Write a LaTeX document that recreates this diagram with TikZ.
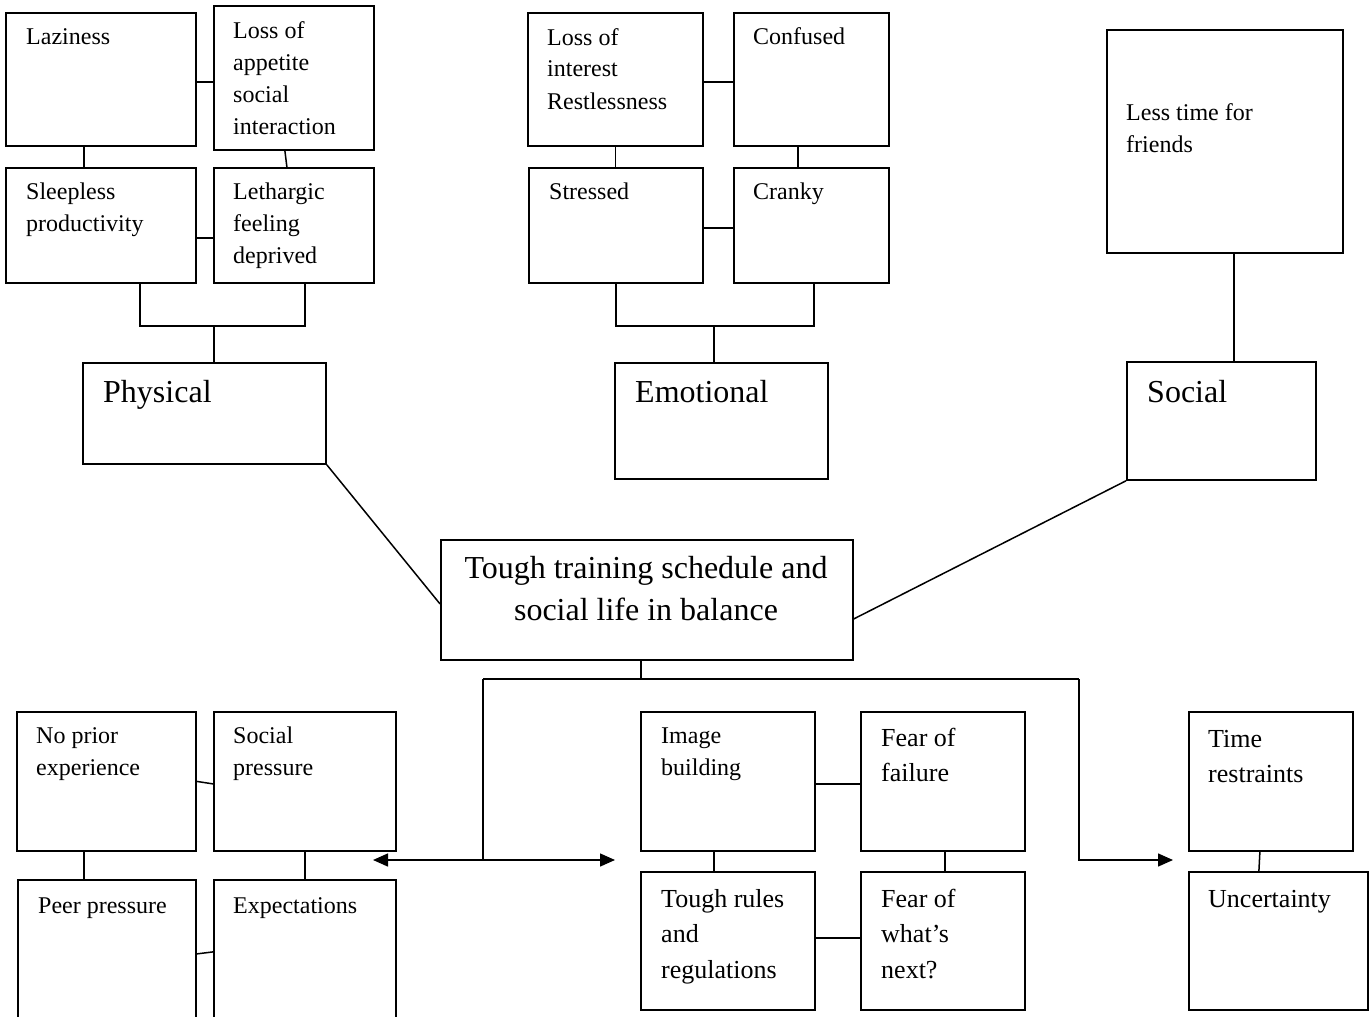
\documentclass[tikz,border=0pt]{standalone}
\usepackage{fontspec}
\setmainfont{Liberation Serif}
\usetikzlibrary{arrows.meta}

\begin{document}
\begin{tikzpicture}[x=1pt,y=-1pt,
  box/.style={draw, line width=1.8pt, inner sep=0pt, anchor=north west},
  conn/.style={line width=1.5pt},
  arr/.style={line width=1.5pt, -{Triangle[length=15pt,width=13pt]}},
  darr/.style={line width=1.5pt, {Triangle[length=15pt,width=13pt]}-{Triangle[length=15pt,width=13pt]}},
  natural spaces/.style={execute at begin node={\spaceskip=\fontdimen2\font\xspaceskip=\fontdimen2\font\relax}},
  lbl/.style={inner sep=0pt, anchor=base west, text width=300pt, align=left, natural spaces},
  sm/.style={lbl, font=\fontsize{24}{32}\selectfont},
  md/.style={lbl, font=\fontsize{26}{35.5}\selectfont},
  bg/.style={lbl, font=\fontsize{32}{42}\selectfont}]

\useasboundingbox (0,0) rectangle (1371,1017);
\clip (0,0) rectangle (1371,1017);

% ---------- physical branch ----------
\node[box, minimum width=190pt, minimum height=133pt] (laz)  at (5,12)   {};
\node[box, minimum width=160pt, minimum height=144pt] (appe) at (213,5)  {};
\node[box, minimum width=190pt, minimum height=115pt] (sleep) at (5,167) {};
\node[box, minimum width=160pt, minimum height=115pt] (leth) at (213,167) {};
\node[box, minimum width=243pt, minimum height=101pt] (phys) at (82,362) {};

\node[sm] (laz-t)   at (26,44)  {Laziness};
\node[sm] (appe-t)  at (233,38) {Loss of\\appetite\\social\\interaction};
\node[sm] (sleep-t) at (26,199) {Sleepless\\productivity};
\node[sm] (leth-t)  at (233,199) {Lethargic\\feeling\\deprived};
\node[bg] (phys-t)  at (103,402) {Physical};

\draw[conn] ([yshift=-2.5pt]laz.east) coordinate (p1) -- (p1 -| appe.west);
\draw[conn] ([xshift=-17pt]laz.south) coordinate (p2) -- (p2 |- sleep.north);
\draw[conn] ([xshift=-9pt]appe.south) -- ([xshift=-7pt]leth.north);
\draw[conn] ([yshift=-12.5pt]sleep.east) coordinate (p3) -- (p3 -| leth.west);
\coordinate (pj) at ([xshift=9.5pt,yshift=36pt]phys.north);
\draw[conn] ([xshift=39pt]sleep.south) |- (pj) -| ([xshift=11pt]leth.south);
\draw[conn] (pj) -- (pj |- phys.north);

% ---------- emotional branch ----------
\node[box, minimum width=175pt, minimum height=133pt] (lint) at (527,12)  {};
\node[box, minimum width=155pt, minimum height=133pt] (conf) at (733,12)  {};
\node[box, minimum width=174pt, minimum height=115pt] (stre) at (528,167) {};
\node[box, minimum width=155pt, minimum height=115pt] (cran) at (733,167) {};
\node[box, minimum width=213pt, minimum height=116pt] (emo)  at (614,362) {};

\node[sm] (lint-t) at (547,45)  {Loss of\\interest\\Restlessness};
\node[sm] (conf-t) at (753,44)  {Confused};
\node[sm] (stre-t) at (549,199) {Stressed};
\node[sm] (cran-t) at (753,199) {Cranky};
\node[bg] (emo-t)  at (635,402) {Emotional};

\draw[conn] ([yshift=-2.5pt]lint.east) coordinate (e1) -- (e1 -| conf.west);
\draw[conn] (lint.south) -- (lint.south |- stre.north);
\draw[conn] ([xshift=-13.5pt]conf.south) coordinate (e2) -- (e2 |- cran.north);
\draw[conn] ([yshift=-2.5pt]stre.east) coordinate (e3) -- (e3 -| cran.west);
\coordinate (ej) at ([xshift=-7.5pt,yshift=36pt]emo.north);
\draw[conn] (stre.south) |- (ej) -| ([xshift=2.5pt]cran.south);
\draw[conn] (ej) -- (ej |- emo.north);

% ---------- social branch ----------
\node[box, minimum width=236pt, minimum height=223pt] (less) at (1106,29)  {};
\node[box, minimum width=189pt, minimum height=118pt] (soc)  at (1126,361) {};

\node[sm] (less-t) at (1126,120) {Less time for\\friends};
\node[bg] (soc-t)  at (1147,402) {Social};

\draw[conn] ([xshift=9pt]less.south) coordinate (s1) -- (s1 |- soc.north);

% ---------- centre ----------
\node[box, minimum width=412pt, minimum height=120pt] (cen) at (440,539) {};
\node[inner sep=0pt, anchor=base, text width=420pt, align=center, natural spaces,
      font=\fontsize{32}{42}\selectfont] (cen-t) at (646,578)
      {Tough training schedule and\\social life in balance};

\draw[conn] (phys.south east) -- ([yshift=-4pt]cen.west);
\draw[conn] (soc.south west) -- ([yshift=-19pt]cen.east);

% ---------- lower left group ----------
\node[box, minimum width=179pt, minimum height=139pt] (nopr) at (16,711)  {};
\node[box, minimum width=182pt, minimum height=139pt] (socp) at (213,711) {};
\node[box, minimum width=178pt, minimum height=151pt] (peer) at (17,879)  {};
\node[box, minimum width=182pt, minimum height=151pt] (expe) at (213,879) {};

\node[sm] (nopr-t) at (36,743)  {No prior\\experience};
\node[sm] (socp-t) at (233,743) {Social\\pressure};
\node[sm] (peer-t) at (38,913)  {Peer pressure};
\node[sm] (expe-t) at (233,913) {Expectations};

\draw[conn] (nopr.east) -- ([yshift=-2.5pt]socp.west);
\draw[conn] ([yshift=1.5pt]peer.east) -- ([yshift=3.5pt]expe.west);
\draw[conn] ([xshift=-22.5pt]nopr.south) coordinate (l1) -- (l1 |- peer.north);
\draw[conn] (socp.south) -- (socp.south |- expe.north);

% ---------- lower middle group ----------
\node[box, minimum width=174pt, minimum height=139pt] (img)   at (640,711) {};
\node[box, minimum width=164pt, minimum height=139pt] (ffail) at (860,711) {};
\node[box, minimum width=174pt, minimum height=138pt] (rules) at (640,871) {};
\node[box, minimum width=164pt, minimum height=138pt] (fnext) at (860,871) {};

\node[sm] (img-t)   at (661,743) {Image\\building};
\node[md] (ffail-t) at (881,746) {Fear of\\failure};
\node[md] (rules-t) at (661,907) {Tough rules\\and\\regulations};
\node[md] (fnext-t) at (881,907) {Fear of\\what’s\\next?};

\draw[conn] ([yshift=-2.5pt]img.east) coordinate (m1) -- (m1 -| ffail.west);
\draw[conn] ([xshift=-14pt]img.south) coordinate (m2) -- (m2 |- rules.north);
\draw[conn] ([xshift=2pt]ffail.south) coordinate (m3) -- (m3 |- fnext.north);
\draw[conn] ([yshift=3pt]rules.east) coordinate (m4) -- (m4 -| fnext.west);

% ---------- lower right group ----------
\node[box, minimum width=164pt, minimum height=139pt] (time) at (1188,711) {};
\node[box, minimum width=179pt, minimum height=138pt] (unc)  at (1188,871) {};

\node[md] (time-t) at (1208,747) {Time\\restraints};
\node[md] (unc-t)  at (1208,907) {Uncertainty};

\draw[conn] ([xshift=-11pt]time.south) -- ([xshift=-19.5pt]unc.north);

% ---------- distribution lines from the centre ----------
\coordinate (jL)   at (483,679);
\coordinate (jR)   at (1079,679);
\coordinate (jM)   at (483,860);
\coordinate (tipL) at (373,860);
\coordinate (tipR) at (615,860);
\coordinate (tipT) at (1173,860);

\draw[conn] ([xshift=-6pt]cen.south) coordinate (c1) -- (c1 |- jL);
\draw[conn] (jL) -- (jR);
\draw[conn] (jL) -- (jM);
\draw[darr] (tipL) -- (tipR);
\draw[arr] (jR) |- (tipT);

\end{tikzpicture}
\end{document}
